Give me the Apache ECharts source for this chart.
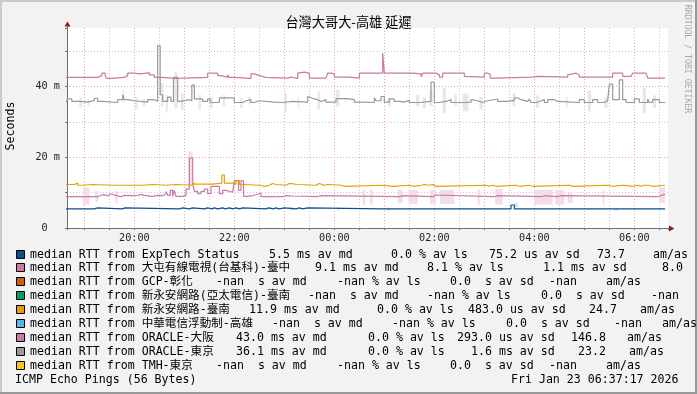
<!DOCTYPE html>
<html><head><meta charset="utf-8">
<script src="https://cdn.jsdelivr.net/npm/echarts@6/dist/echarts.min.js"></script>
<style>html,body{margin:0;padding:0;background:#f2f2f2}#c{width:697px;height:394px}</style>
</head><body><div id="c"></div>
<script>
// All times are minutes after 18:00 (Jan 22); values are milliseconds.
const expT = [38,72,76,105,109,174,178,186,190,204,208,213,216,220,226,229,234,238,242,246,250,278,281,287,290,294,300,314,318,322,328,417,419,441,443,572,576,757];
const expV = [5.4,5.7,5.4,5.7,5.4,5.7,5.4,5.7,5.4,5.7,5.4,5.7,5.4,5.7,5.4,5.7,5.4,5.7,5.4,5.7,5.4,5.7,5.4,5.7,5.4,5.7,5.4,5.7,5.4,5.7,5.4,4.9,5.4,4.9,5.4,6.5,5.4,5.4];

const tcT = [38,76,78,82,88,92,98,104,108,118,124,128,132,142,148,154,158,160,163,166,168,170,178,182,186,190,192,196,200,204,208,212,222,226,230,238,240,245,248,251,256,262,266,272,298,302,304,310,340,343,438,442,478,482,552,556,609,612,628,631,748,751,757];
const tcV = [8.85,9.23,9.42,9.14,9.61,9.23,8.85,9.23,9.14,9.23,9.51,9.23,8.95,9.23,9.14,9.7,10.36,9.23,10.65,8.95,10.65,8.95,9.23,11.0,19.8,12.7,10.36,9.7,10.36,11.0,9.7,11.8,9.7,10.65,10.1,10.65,13.4,10.65,13.4,8.95,9.14,9.42,9.9,8.85,9.14,8.85,9.05,8.85,9.14,8.85,9.14,8.85,9.33,8.85,9.14,8.85,9.14,8.85,9.14,8.85,9.14,9.5,9.5];

const tnT = [38,48,52,58,70,94,96,130,132,142,158,170,190,192,214,225,228,238,242,246,250,270,278,282,286,290,302,306,316,318,338,342,348,352,368,372,418,430,450,454,464,468,474,478,482,542,546,550,554,578,582,594,598,642,646,688,694,706,714,718,724,728,732,734,738,742,757];
const tnV = [12.3,12.7,12.1,12.3,12.1,12.3,12.1,12.6,12.3,12.1,12.3,12.1,13.0,12.4,12.7,15.0,12.7,12.4,13.4,12.3,12.1,11.8,12.1,12.6,12.3,12.1,12.6,12.3,12.6,12.1,12.6,12.1,12.3,12.1,11.8,12.1,11.8,12.1,11.8,12.1,12.3,12.1,12.3,11.8,12.1,11.8,12.1,11.8,12.1,11.8,12.1,11.8,12.1,11.8,12.1,11.8,12.1,11.9,11.8,12.1,11.8,12.1,11.8,12.1,11.8,12.1,12.1];

const osT = [38,76,81,85,87,92,108,112,120,126,138,144,152,170,208,220,224,232,234,240,260,264,270,278,304,308,316,318,324,330,350,352,356,360,378,390,418,420,454,456,464,466,482,486,490,516,518,540,544,547,552,598,600,604,640,642,650,654,694,706,716,718,734,736,748,750,757];
const osV = [42.6,43.1,43.8,43.1,42.3,42.6,43.1,43.8,43.6,43.9,43.3,42.6,42.3,42.6,43.8,43.1,42.6,43.3,42.6,42.3,43.6,43.1,42.6,42.4,42.7,42.3,43.8,44.1,43.8,42.4,42.7,43.8,43.6,42.7,42.4,43.8,49.5,43.8,44.1,43.6,42.7,43.8,43.4,42.7,43.8,42.9,42.7,43.8,43.5,42.4,42.7,42.4,42.9,42.7,43.3,43.8,43.3,42.7,43.8,42.9,43.3,43.8,43.3,42.4,42.7,42.4,42.4];

const tkT = [38,40,45,54,64,72,76,82,100,106,108,112,120,136,144,148,151,154,160,164,167,172,176,186,189,192,202,208,211,222,240,250,254,260,264,270,288,298,310,328,330,334,340,344,350,362,376,384,396,408,410,416,420,426,432,438,444,450,462,476,480,486,494,500,518,524,526,532,538,544,546,556,568,576,580,584,592,594,596,602,606,612,616,624,628,654,660,670,676,684,688,690,694,702,706,710,720,726,736,738,742,750,757];
const tkV = [35.6,36.5,35.8,35.6,36.1,36.7,35.8,35.5,36.3,37.7,36.3,36.0,35.6,36.3,35.8,51.6,37.7,35.8,37.0,35.8,42.6,35.8,36.3,36.0,40.4,36.5,35.8,36.5,35.5,36.8,35.5,36.0,36.3,35.5,36.0,35.6,35.5,35.8,35.6,37.2,36.7,36.3,35.8,36.3,35.6,36.6,36.3,35.6,35.5,36.8,36.0,37.2,35.6,36.5,35.8,35.6,36.1,35.5,35.8,41.3,35.5,35.8,36.3,35.5,35.6,36.3,36.0,35.5,36.0,35.5,36.5,35.8,36.1,36.8,36.3,35.8,35.5,36.5,35.5,35.8,36.3,35.5,36.3,35.8,35.5,36.3,35.5,36.3,35.5,36.0,36.3,40.7,36.3,41.9,36.3,35.5,36.5,35.5,36.5,35.5,36.3,35.5,35.5];

// smoke (spread of pings): [start min, end min, low ms, high ms]
const tkSmoke = [[54,57,34.0,37.0],[64,66,34.4,36.8],[106,108,35.4,39.1],[121,124,33.5,37.2],[130,133,34.4,36.5],[152,155,34.4,41.0],[158,160,32.7,37.7],[168,172,33.9,44.3],[176,179,33.3,38.2],[197,200,33.5,37.7],[211,214,33.9,37.2],[226,229,34.4,37.7],[247,250,33.9,36.8],[257,260,34.9,37.2],[300,303,32.7,38.2],[316,318,33.9,36.8],[340,343,33.5,38.7],[362,366,34.4,39.1],[424,428,34.4,36.8],[458,462,34.4,37.7],[466,470,33.9,37.0],[474,478,34.4,39.0],[490,494,32.5,39.6],[504,507,34.4,37.7],[514,521,33.0,38.0],[534,538,33.5,37.0],[574,577,34.4,38.2],[602,606,34.0,37.5],[638,640,34.0,37.0],[664,668,33.0,39.0],[684,688,34.0,37.0],[730,734,32.5,39.6],[742,746,34.0,37.5]];
const tcSmoke = [[58,66,6.6,11.4],[73,77,7.5,10.5],[97,100,7.0,10.5],[185,190,12.0,21.7],[394,397,6.6,10.8],[403,406,6.6,10.8],[436,442,7.0,10.8],[449,460,6.8,10.8],[475,482,6.8,10.8],[487,504,6.8,10.8],[532,535,6.6,10.8],[553,562,6.6,11.0],[600,622,6.6,10.8],[625,636,6.6,10.8],[640,646,7.1,9.9],[682,684,6.6,10.8],[750,757,7.1,11.5]];
const expSmoke = [[306,310,5.0,5.9],[364,366,5.0,5.9],[424,427,4.9,5.8],[576,580,5.9,7.0],[696,700,4.9,5.4]];

// legend
const names = ['ExpTech Status','大屯有線電視(台基科)-臺中','GCP-彰化','新永安網路(亞太電信)-臺南','新永安網路-臺南','中華電信浮動制-高雄','ORACLE-大阪','ORACLE-東京','TMH-東京'];
const colors = ['#0b4f8e','#CC79A7','#D55E00','#009E73','#E69F00','#56B4E9','#CC79A7','#999999','#F5C710'];
const avMd = ['5.5 ms','9.1 ms','-nan  s','-nan  s','11.9 ms','-nan  s','43.0 ms','36.1 ms','-nan  s'];
const avLs = ['0.0','8.1','-nan','-nan','0.0','-nan','0.0','0.0','-nan'];
const avSd = ['75.2 us','1.1 ms','0.0  s','0.0  s','483.0 us','0.0  s','293.0 us','1.6 ms','0.0  s'];
const amAs = ['73.7','8.0','-nan','-nan','24.7','-nan','146.8','23.2','-nan'];
const titleText = '台灣大哥大-高雄 延遲';
const footLeft = 'ICMP Echo Pings (56 Bytes)';
const footRight = 'Fri Jan 23 06:37:17 2026';

// layout: x of [md, ls, sd, am value, "am/as"] per legend row
const colX = [[269,391,489,597,653],[315,427,543,662,708],[216,337,450,549,606],[308,427,541,651,707],[249,377,468,589,640],[272,392,506,614,662],[236,368,457,571,627],[236,368,471,578,629],[216,337,450,549,606]];
const MONO = '"DejaVu Sans Mono", "Noto Sans CJK TC", monospace';
const toH = m => 18 + m / 60;
const GL = 67, GT = 28, GW = 601, GH = 200;

function lineSeries(T, V, color) {
  return {type:'line', step:'end', showSymbol:false, silent:true, z:3,
    data: T.map((t,i)=>[toH(t), V[i]]),
    lineStyle:{color:color, width:1.2}, itemStyle:{color:color}};
}
function smokeSeries(S, color) {
  return {type:'custom', silent:true, z:1, clip:true,
    data: S.map(d=>[toH(d[0]), toH(d[1]), d[2], d[3]]),
    encode:{x:[0,1], y:[2,3]},
    renderItem(params, api){
      const p0 = api.coord([api.value(0), api.value(3)]);
      const p1 = api.coord([api.value(1), api.value(2)]);
      return {type:'rect', shape:{x:p0[0], y:p0[1], width:p1[0]-p0[0], height:p1[1]-p0[1]}, style:{fill:color}};
    }};
}
function txt(t, x, y, opt) {
  return Object.assign({type:'text', x:x, y:y, silent:true, z:10,
    style:Object.assign({text:t, font:'11.6px ' + MONO, fill:'#000', align:'left', verticalAlign:'middle'}, opt||{})});
}

const g = [];
// borders
g.push({type:'rect', shape:{x:0,y:0,width:697,height:2}, style:{fill:'#cbcbcb'}, silent:true});
g.push({type:'rect', shape:{x:0,y:0,width:2,height:394}, style:{fill:'#cbcbcb'}, silent:true});
g.push({type:'rect', shape:{x:0,y:392,width:697,height:2}, style:{fill:'#999999'}, silent:true});
g.push({type:'rect', shape:{x:695,y:0,width:2,height:394}, style:{fill:'#999999'}, silent:true});
// title & side texts
g.push(txt(titleText, 348.5, 21.5, {font:'13.2px "Noto Sans CJK TC", sans-serif', align:'center'}));
g.push({type:'text', x:10.5, y:126, rotation:Math.PI/2, silent:true,
  style:{text:'Seconds', font:'11.6px ' + MONO, fill:'#000', align:'center', verticalAlign:'middle'}});
g.push({type:'text', x:687.5, y:59, rotation:-Math.PI/2, silent:true,
  style:{text:'RRDTOOL / TOBI OETIKER', font:'8.2px ' + MONO, fill:'#a8a8a8', align:'center', verticalAlign:'middle'}});
// axis arrows
g.push({type:'line', shape:{x1:67.5,y1:24,x2:67.5,y2:28}, style:{stroke:'#707070', lineWidth:1}, silent:true});
g.push({type:'polygon', shape:{points:[[67.5,21.5],[64.5,26.5],[70.5,26.5]]}, style:{fill:'#9a1b1b'}, silent:true});
g.push({type:'polygon', shape:{points:[[674.5,228.5],[669,225.5],[669,231.5]]}, style:{fill:'#9a1b1b'}, silent:true});
// legend
const rowY0 = 254.5, rowDY = 13.9;
names.forEach((n,i)=>{
  const cy = rowY0 + i*rowDY;
  g.push({type:'rect', shape:{x:16.5, y:Math.round(cy-5)+0.5, width:8, height:8}, style:{fill:colors[i], stroke:'#000', lineWidth:1}, silent:true});
  g.push(txt('median RTT from ' + n, 30, cy));
  const c = colX[i];
  g.push(txt(avMd[i] + ' av md', c[0], cy));
  g.push(txt(avLs[i] + ' % av ls', c[1], cy));
  g.push(txt(avSd[i] + ' av sd', c[2], cy));
  g.push(txt(amAs[i], c[3], cy));
  g.push(txt('am/as', c[4], cy));
});
g.push(txt(footLeft, 15, 380));
g.push(txt(footRight, 678.5, 380, {align:'right'}));

const chart = echarts.init(document.getElementById('c'), null, {renderer:'canvas'});
const axisFont = {fontFamily:'"DejaVu Sans Mono", monospace', fontSize:10.2, color:'#222'};
chart.setOption({
  backgroundColor:'#f2f2f2',
  animation:false,
  grid:{left:GL, top:GT, width:GW, height:GH, show:true, backgroundColor:'#ffffff', borderWidth:0},
  xAxis:{type:'value', min:toH(39.2), max:toH(39.2)+GW/50, splitNumber:12, minInterval:1, maxInterval:1,
    axisLine:{show:true, lineStyle:{color:'#707070', width:1}},
    axisTick:{show:true, length:2, lineStyle:{color:'#707070'}},
    minorTick:{show:true, splitNumber:2, length:2, lineStyle:{color:'#707070'}},
    splitLine:{show:true, showMinLine:false, showMaxLine:false, lineStyle:{color:'#f3a0a0', type:[1,2], width:1}},
    minorSplitLine:{show:true, lineStyle:{color:'#c8c8c8', type:[1,2], width:1}},
    axisLabel:Object.assign({margin:5, showMinLabel:false, showMaxLabel:false,
      formatter:v=>{const h=Math.round(v); if(Math.abs(v-h)>1e-6||h%2) return ''; return String(h%24).padStart(2,'0')+':00';}}, axisFont)},
  yAxis:{type:'value', min:0, max:GH/3.535, interval:20,
    axisLine:{show:true, lineStyle:{color:'#707070', width:1}},
    axisTick:{show:true, length:2, lineStyle:{color:'#707070'}},
    minorTick:{show:true, splitNumber:2, length:2, lineStyle:{color:'#707070'}},
    splitLine:{show:true, showMinLine:false, showMaxLine:false, lineStyle:{color:'#f3a0a0', type:[1,2], width:1}},
    minorSplitLine:{show:true, lineStyle:{color:'#c8c8c8', type:[1,2], width:1}},
    axisLabel:Object.assign({margin:7, showMaxLabel:false,
      formatter:v=>{if(v===0) return '0  '; if(Math.abs(v%20)<1e-6) return v+' m'; return '';}}, axisFont)},
  series:[
    smokeSeries(tkSmoke, '#e8e8e8'),
    smokeSeries(tcSmoke, '#f3dde9'),
    smokeSeries(expSmoke, '#cddff0'),
    lineSeries(expT, expV, colors[0]),
    lineSeries(tcT, tcV, colors[1]),
    lineSeries(tnT, tnV, colors[4]),
    lineSeries(osT, osV, colors[6]),
    lineSeries(tkT, tkV, colors[7])
  ],
  graphic:{elements:g}
});
</script>
</body></html>
